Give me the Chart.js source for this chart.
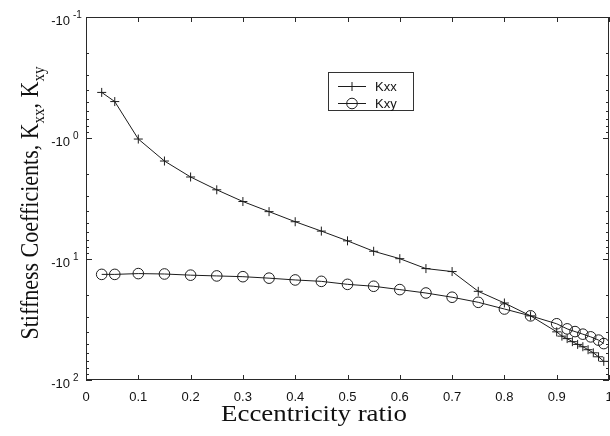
<!DOCTYPE html>
<html>
<head>
<meta charset="utf-8">
<script src="https://cdn.jsdelivr.net/npm/chart.js@4.4.1/dist/chart.umd.min.js"></script>
<style>
  html, body { margin: 0; padding: 0; background: #ffffff; }
  #wrap { width: 610px; height: 436px; position: relative; overflow: hidden; }
  canvas { display: block; }
</style>
</head>
<body>
<div id="wrap"><canvas id="c" width="610" height="436"></canvas></div>
<script>
// ---- Data ----
const eccKxx = [0.03, 0.055, 0.1, 0.15, 0.2, 0.25, 0.3, 0.35, 0.4, 0.45, 0.5, 0.55, 0.6, 0.65, 0.7, 0.75, 0.8, 0.85, 0.9, 0.91, 0.92, 0.93, 0.94, 0.95, 0.96, 0.97, 0.98, 0.99];
const kxx = [-0.42, -0.50, -1.02, -1.55, -2.10, -2.68, -3.35, -4.06, -4.92, -5.88, -7.08, -8.63, -9.94, -12.0, -12.7, -18.5, -23.1, -29.5, -40.0, -43.4, -45.5, -48.2, -50.8, -53.1, -56.2, -59.6, -64.3, -70.1];
const eccKxy = [0.03, 0.055, 0.1, 0.15, 0.2, 0.25, 0.3, 0.35, 0.4, 0.45, 0.5, 0.55, 0.6, 0.65, 0.7, 0.75, 0.8, 0.85, 0.9, 0.92, 0.935, 0.95, 0.965, 0.98, 0.99];
const kxy = [-13.4, -13.4, -13.2, -13.3, -13.6, -13.8, -14.0, -14.4, -14.9, -15.3, -16.2, -16.8, -17.9, -19.1, -20.7, -22.8, -25.9, -29.5, -34.3, -37.8, -39.8, -41.8, -44.0, -46.8, -50.0];
const seriesNames = ['Kxx', 'Kxy'];
const xTickValues = [0, 0.1, 0.2, 0.3, 0.4, 0.5, 0.6, 0.7, 0.8, 0.9, 1];
const xTickLabels = ['0', '0.1', '0.2', '0.3', '0.4', '0.5', '0.6', '0.7', '0.8', '0.9', '1'];
const yTickValues = [-0.1, -1, -10, -100];
const yTickBase = '-10';
const yTickExponents = ['-1', '0', '1', '2'];
const xTitle = 'Eccentricity ratio';
const yTitleParts = [['Stiffness Coefficients, K', false], ['xx', true], [', K', false], ['xy', true]];

// ---- Build ----
const lineColor = '#1c1c1c';
const toPts = (xs, ys) => xs.map((x, i) => ({ x: x, y: -ys[i] }));

const decorPlugin = {
  id: 'decor',
  afterDraw(chart) {
    const ctx = chart.ctx;
    const a = chart.chartArea;
    const xs = chart.scales.x, ys = chart.scales.y;
    ctx.save();
    ctx.strokeStyle = '#2a2a2a';
    ctx.lineWidth = 1;
    // frame
    ctx.strokeRect(Math.round(a.left) + 0.5, Math.round(a.top) + 0.5, Math.round(a.right - a.left) - 1, Math.round(a.bottom - a.top) - 1);
    ctx.beginPath();
    // x ticks (inward, bottom and top)
    xTickValues.forEach(v => {
      const px = Math.round(xs.getPixelForValue(v)) + 0.5;
      ctx.moveTo(px, a.bottom); ctx.lineTo(px, a.bottom - 5);
      ctx.moveTo(px, a.top); ctx.lineTo(px, a.top + 5);
    });
    // y ticks major + minor (inward, left and right)
    yTickValues.forEach((v, i) => {
      const m = -v;
      const py = Math.round(ys.getPixelForValue(m)) + 0.5;
      ctx.moveTo(a.left, py); ctx.lineTo(a.left + 6, py);
      ctx.moveTo(a.right, py); ctx.lineTo(a.right - 6, py);
      if (i < yTickValues.length - 1) {
        for (let k = 2; k <= 9; k++) {
          const q = Math.round(ys.getPixelForValue(m * k)) + 0.5;
          ctx.moveTo(a.left, q); ctx.lineTo(a.left + 3, q);
          ctx.moveTo(a.right, q); ctx.lineTo(a.right - 3, q);
        }
      }
    });
    ctx.stroke();

    // y tick labels: -10 with superscript exponent
    ctx.fillStyle = '#111';
    yTickValues.forEach((v, i) => {
      const py = ys.getPixelForValue(-v);
      ctx.font = '13px "Liberation Sans", Arial, sans-serif';
      ctx.textAlign = 'right';
      ctx.textBaseline = 'alphabetic';
      ctx.fillText(yTickBase, 70, py + 8);
      ctx.font = '10px "Liberation Sans", Arial, sans-serif';
      ctx.textAlign = 'left';
      ctx.fillText(yTickExponents[i], 73, py + 1);
    });

    // x title (scan is slightly stretched horizontally)
    ctx.save();
    ctx.font = '24px "Liberation Serif", "Times New Roman", serif';
    ctx.textAlign = 'center';
    ctx.textBaseline = 'alphabetic';
    ctx.translate(314, 421);
    ctx.scale(1.12, 1);
    ctx.fillText(xTitle, 0, 0);
    ctx.restore();

    // y title with subscripts (rotated)
    const big = '22px "Liberation Serif", "Times New Roman", serif';
    const small = '15px "Liberation Serif", "Times New Roman", serif';
    let total = 0;
    yTitleParts.forEach(p => { ctx.font = p[1] ? small : big; total += ctx.measureText(p[0]).width; });
    ctx.translate(38, 203);
    ctx.scale(1.12, 1);
    ctx.rotate(-Math.PI / 2);
    ctx.textAlign = 'left';
    let cx = -total / 2;
    yTitleParts.forEach(p => {
      ctx.font = p[1] ? small : big;
      ctx.fillText(p[0], cx, p[1] ? 5 : 0);
      cx += ctx.measureText(p[0]).width;
    });
    ctx.restore();

    // legend box
    ctx.save();
    ctx.strokeStyle = '#333';
    ctx.lineWidth = 1;
    ctx.strokeRect(328.5, 72.5, 85, 38);
    const entries = [[86, chart.data.datasets[0]], [103, chart.data.datasets[1]]];
    entries.forEach(([ly, ds]) => {
      ctx.strokeStyle = lineColor;
      ctx.beginPath();
      ctx.moveTo(338, ly + 0.5); ctx.lineTo(366, ly + 0.5);
      ctx.stroke();
      ctx.fillStyle = 'rgba(0,0,0,0)';
      Chart.helpers.drawPoint(ctx, {
        pointStyle: ds.pointStyle, radius: ds.pointRadius, rotation: 0, borderWidth: 1
      }, 352, ly + 0.5);
      ctx.fillStyle = '#111';
      ctx.font = '13px "Liberation Sans", Arial, sans-serif';
      ctx.textAlign = 'left';
      ctx.textBaseline = 'middle';
      ctx.fillText(ds.label, 375, ly + 1);
    });
    ctx.restore();
  }
};

new Chart(document.getElementById('c'), {
  type: 'line',
  data: {
    datasets: [
      {
        label: seriesNames[0],
        data: toPts(eccKxx, kxx),
        borderColor: lineColor,
        borderWidth: 1,
        pointStyle: 'cross',
        pointRadius: 4.5,
        pointBorderColor: lineColor,
        pointBorderWidth: 1,
        pointBackgroundColor: 'rgba(0,0,0,0)',
        tension: 0,
        fill: false
      },
      {
        label: seriesNames[1],
        data: toPts(eccKxy, kxy),
        borderColor: lineColor,
        borderWidth: 1,
        pointStyle: 'circle',
        pointRadius: 5.3,
        pointBorderColor: lineColor,
        pointBorderWidth: 1,
        pointBackgroundColor: 'rgba(0,0,0,0)',
        tension: 0,
        fill: false
      }
    ]
  },
  options: {
    responsive: false,
    animation: false,
    devicePixelRatio: 1,
    layout: { padding: { top: 17, right: 1, left: 0, bottom: 0 }, autoPadding: false },
    plugins: { legend: { display: false }, tooltip: { enabled: false } },
    scales: {
      x: {
        type: 'linear',
        min: 0, max: 1,
        afterBuildTicks: s => { s.ticks = xTickValues.map(v => ({ value: v })); },
        afterFit: s => { s.height = 56; s.paddingLeft = 0; s.paddingRight = 0; },
        ticks: {
          callback: (v, i) => xTickLabels[i],
          font: { family: '"Liberation Sans", Arial, sans-serif', size: 13 },
          color: '#111',
          padding: 10,
          maxRotation: 0,
          autoSkip: false
        },
        grid: { display: false, drawTicks: false },
        border: { display: false }
      },
      y: {
        type: 'logarithmic',
        min: 0.1, max: 100,
        reverse: true,
        afterBuildTicks: s => { s.ticks = yTickValues.map(v => ({ value: -v })); },
        afterFit: s => { s.width = 86; s.paddingTop = 0; s.paddingBottom = 0; },
        ticks: { display: false },
        grid: { display: false, drawTicks: false },
        border: { display: false }
      }
    }
  },
  plugins: [decorPlugin]
});
</script>
</body>
</html>
